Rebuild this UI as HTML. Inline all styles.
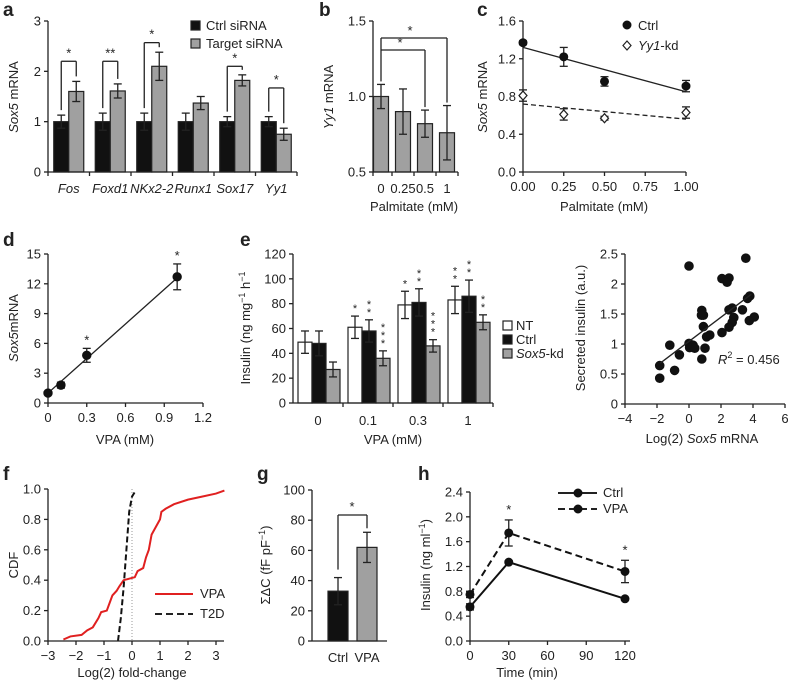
<!DOCTYPE html>
<html><head><meta charset="utf-8"><style>
html,body{margin:0;padding:0;background:#fff;}
svg{display:block;font-family:"Liberation Sans",sans-serif;}
text{fill:#222;}
</style></head><body>
<svg id="fig" width="788" height="682" viewBox="0 0 788 682" xmlns="http://www.w3.org/2000/svg"></svg>
<script>
// ---- panel a data
const aCats=['Fos','Foxd1','NKx2-2','Runx1','Sox17','Yy1'];
const aCtrl=[1,1,1,1,1,1];
const aCtrlErr=[0.13,0.17,0.17,0.17,0.1,0.1];
const aTarget=[1.6,1.61,2.1,1.37,1.82,0.75];
const aTargetErr=[0.2,0.14,0.28,0.13,0.11,0.12];
const aStars=['*','**','*','','*','*'];
const aBracketTop=[2.2,2.2,2.57,0,2.1,1.67];
const aTicks=[0,1,2,3];
// ---- panel b
const bCats=['0','0.25','0.5','1'];
const bVals=[1.0,0.9,0.82,0.76];
const bErr=[0.08,0.15,0.09,0.18];
const bTicks=[0.5,1.0,1.5];
// ---- panel c
const cX=[0,0.25,0.5,1];
const cCtrl=[1.37,1.22,0.96,0.91];
const cCtrlErr=[0.02,0.1,0.05,0.06];
const cKd=[0.81,0.61,0.57,0.63];
const cKdErr=[0.06,0.06,0.02,0.06];
const cCtrlFit=[1.32,0.85];
const cKdFit=[0.72,0.56];
const cYTicks=[0,0.4,0.8,1.2,1.6];
const cXTicks=[0,0.25,0.5,0.75,1];
// ---- panel d
const dX=[0,0.1,0.3,1];
const dY=[1,1.8,4.8,12.7];
const dErr=[0.1,0.3,0.7,1.3];
const dStars=['','','*','*'];
const dFit=[1,12.6];
const dYTicks=[0,3,6,9,12,15];
const dXTicks=[0,0.3,0.6,0.9,1.2];
// ---- panel e
const eCats=['0','0.1','0.3','1'];
const eNT=[49,61,79,83];
const eNTErr=[9,9,11,11];
const eCtrl=[48,58,81,86];
const eCtrlErr=[10,9,11,13];
const eKd=[27,36,46,65];
const eKdErr=[6,6,5,6];
const eNTStars=[0,1,1,2];
const eCtrlStars=[0,2,2,2];
const eKdStars=[0,3,3,2];
const eTicks=[0,20,40,60,80,100,120];
// ---- scatter
const sX=[0,3.55,2.06,2.5,2.38,3.8,3.66,3.34,2.7,2.5,0.8,0.9,0.78,4.08,3.77,2.8,2.7,2.5,0.9,2.06,1.3,1.1,-1.2,0,0.25,0.04,0.36,-0.6,0.8,-1.83,-0.9,-1.83,1.0];
const sY=[2.3,2.43,2.09,2.1,2.03,1.8,1.76,1.57,1.6,1.57,1.56,1.48,1.48,1.45,1.39,1.44,1.36,1.28,1.29,1.19,1.15,1.12,0.98,1.01,0.98,0.94,0.93,0.82,0.75,0.64,0.56,0.43,0.93];
const sFitX=[-1.8,3.9];
const sFitY=[0.68,1.83];
const sYTicks=[0,0.5,1,1.5,2,2.5];
const sYLabels=['0','0.5','1','1.5','2','2.5'];
const sXTicks=[-4,-2,0,2,4,6];
// ---- panel f
const fVpaX=[-2.45,-2.2,-1.8,-1.6,-1.4,-1.2,-1.1,-0.9,-0.8,-0.7,-0.55,-0.45,-0.3,-0.1,0.1,0.2,0.4,0.5,0.6,0.7,0.85,1.0,1.05,1.2,1.5,2.0,2.5,3.0,3.3];
const fVpaY=[0.01,0.03,0.04,0.07,0.09,0.15,0.19,0.2,0.25,0.3,0.33,0.36,0.4,0.41,0.42,0.46,0.48,0.55,0.6,0.7,0.75,0.8,0.85,0.87,0.9,0.93,0.95,0.97,0.99];
const fT2dX=[-0.5,-0.4,-0.3,-0.2,-0.1,0,0.1];
const fT2dY=[0,0.15,0.35,0.6,0.85,0.95,0.98];
const fYTicks=[0,0.2,0.4,0.6,0.8,1.0];
const fXTicks=[-3,-2,-1,0,1,2,3];
// ---- panel g
const gCats=['Ctrl','VPA'];
const gVals=[33,62];
const gErr=[9,10];
const gTicks=[0,20,40,60,80,100];
// ---- panel h
const hX=[0,30,120];
const hCtrl=[0.55,1.27,0.68];
const hCtrlErr=[0.05,0.02,0.02];
const hVpa=[0.75,1.74,1.12];
const hVpaErr=[0.05,0.21,0.18];
const hStars=['','*','*'];
const hYTicks=[0,0.4,0.8,1.2,1.6,2.0,2.4];
const hXTicks=[0,30,60,90,120];

const NS='http://www.w3.org/2000/svg';
const svg=document.getElementById('fig');
function mk(tag,attrs,txt){const e=document.createElementNS(NS,tag);for(const k in attrs)e.setAttribute(k,attrs[k]);if(txt!==undefined)e.textContent=txt;svg.appendChild(e);return e;}
function lin(d0,d1,r0,r1){return v=>r0+(v-d0)*(r1-r0)/(d1-d0);}
function line(x1,y1,x2,y2,name,extra){const e=mk('line',Object.assign({x1,y1,x2,y2,stroke:'#222','stroke-width':1.3},extra||{}));


return e;}
function txt(x,y,s,name,extra){const e=mk('text',Object.assign({x,y,'font-size':13},extra||{}),s);


return e;}
function yAxis(x,ys,ticks,labels,name){line(x,ys(ticks[0]),x,ys(ticks[ticks.length-1]),name+'-y-axis');
ticks.forEach((t,i)=>{line(x-4,ys(t),x,ys(t),name+'-y-tick');txt(x-7,ys(t)+4.5,labels?labels[i]:String(t),name+'-y-tick-label',{'text-anchor':'end'});});}
function xAxis(y,xs,ticks,labels,name){line(xs(ticks[0]),y,xs(ticks[ticks.length-1]),y,name+'-x-axis');
ticks.forEach((t,i)=>{line(xs(t),y,xs(t),y+4,name+'-x-tick');txt(xs(t),y+19,labels?labels[i]:String(t),name+'-x-tick-label',{'text-anchor':'middle'});});}
function ytitle(x,y,parts,name){const e=mk('text',{x:0,y:0,'font-size':13,'text-anchor':'middle',transform:`translate(${x},${y}) rotate(-90)`});


parts.forEach(p=>{const s=document.createElementNS(NS,'tspan');s.textContent=p[0];if(p[1]==='i')s.setAttribute('font-style','italic');if(p[1]==='sup'){s.setAttribute('font-size','9');s.setAttribute('dy','-5');}if(p[1]==='down'){s.setAttribute('dy','5');}e.appendChild(s);});return e;}
function rect(x,y,w,h,fill,name){const e=mk('rect',{x,y,width:w,height:h,fill,stroke:'#222','stroke-width':1.2});


return e;}
function err(x,ylo,yhi,name){line(x,ylo,x,yhi,name);line(x-4,ylo,x+4,ylo,name+'-cap');line(x-4,yhi,x+4,yhi,name+'-cap');}
function dot(x,y,r,name,fill){const e=mk('circle',{cx:x,cy:y,r,fill:fill||'#111',stroke:'#111','stroke-width':1});


return e;}
function letter(x,y,s){txt(x,y,s,'panel-label-'+s,{'font-size':19,'font-weight':'bold','fill':'#111'});}
const GR='#a0a0a0';

// ===== a
letter(3,16,'a');
{const ys=lin(0,3,172,21);const x0=48,gw=41.5;
aCats.forEach((c,i)=>{const cx=x0+gw*(i+0.5);
 rect(cx-15,ys(aCtrl[i]),15,ys(0)-ys(aCtrl[i]),'#111','a-bar-ctrl-'+c);
 rect(cx,ys(aTarget[i]),15,ys(0)-ys(aTarget[i]),GR,'a-bar-target-'+c);
 err(cx-7.5,ys(aCtrl[i]-aCtrlErr[i]),ys(aCtrl[i]+aCtrlErr[i]),'a-err-ctrl');
 err(cx+7.5,ys(aTarget[i]-aTargetErr[i]),ys(aTarget[i]+aTargetErr[i]),'a-err-target');
 if(aStars[i]){const t1=ys(aCtrl[i]+aCtrlErr[i])-5,t2=ys(aTarget[i]+aTargetErr[i])-5;const top=ys(aBracketTop[i]);
  line(cx-7.5,t1,cx-7.5,top,'a-bracket');line(cx-7.5,top,cx+7.5,top,'a-bracket');line(cx+7.5,top,cx+7.5,t2,'a-bracket');
  txt(cx,top-4,aStars[i],'a-significance',{'text-anchor':'middle','font-size':13});}
 txt(cx,193,c,'a-category-label',{'text-anchor':'middle','font-style':'italic'});
 line(x0+gw*i,172,x0+gw*i,176,'a-x-tick');});
line(x0+gw*6,172,x0+gw*6,176,'a-x-tick');
line(x0,172,x0+gw*6,172,'a-x-axis');
yAxis(x0,ys,aTicks,null,'a');
ytitle(18,97,[['Sox5','i'],[' mRNA']],'a-y-axis-title');
rect(191,21,9,9,'#111','a-legend-ctrl-swatch');txt(206,30,'Ctrl siRNA','a-legend-ctrl');
rect(191,39,9,9,GR,'a-legend-target-swatch');txt(206,48,'Target siRNA','a-legend-target');}

// ===== b
letter(319,16,'b');
{const ys=lin(0.5,1.5,172,21);const x0=373;const cxs=i=>381+22*i;
bCats.forEach((c,i)=>{const cx=cxs(i);rect(cx-7.5,ys(bVals[i]),15,ys(0.5)-ys(bVals[i]),GR,'b-bar-'+c);
 err(cx,ys(bVals[i]-bErr[i]),ys(bVals[i]+bErr[i]),'b-err');
 txt(cx,193,c,'b-x-tick-label',{'text-anchor':'middle'});});
[0,1,2,3,4].forEach(i=>line(x0+(i===0?0:cxs(i-1)+11-x0),172,x0+(i===0?0:cxs(i-1)+11-x0),176,'b-x-tick'));
line(x0,172,458,172,'b-x-axis');
ytitle(333,97,[['Yy1','i'],[' mRNA']],'b-y-axis-title');
txt(414,211,'Palmitate (mM)','b-x-axis-title',{'text-anchor':'middle'});
yAxis(x0,ys,bTicks,['0.5','1.0','1.5'],'b');
const t0=ys(bVals[0]+bErr[0])-3;
line(cxs(0),t0,cxs(0),38,'b-bracket');line(cxs(0),38,cxs(3),38,'b-bracket');line(cxs(3),38,cxs(3),ys(bVals[3]+bErr[3])-3,'b-bracket');
line(cxs(0),50,cxs(2),50,'b-bracket');line(cxs(2),50,cxs(2),ys(bVals[2]+bErr[2])-3,'b-bracket');
txt(410,35,'*','b-significance',{'text-anchor':'middle'});txt(400,47,'*','b-significance',{'text-anchor':'middle'});}

// ===== c
letter(477,16,'c');
{const ys=lin(0,1.6,172,21),xs=lin(0,1,523,686);
yAxis(523,ys,cYTicks,['0.0','0.4','0.8','1.2','1.6'],'c');xAxis(172,xs,cXTicks,['0.00','0.25','0.50','0.75','1.00'],'c');
line(xs(0),ys(cCtrlFit[0]),xs(1),ys(cCtrlFit[1]),'c-ctrl-fit-line');
line(xs(0),ys(cKdFit[0]),xs(1),ys(cKdFit[1]),'c-kd-fit-line',{'stroke-dasharray':'5,3'});
cX.forEach((x,i)=>{err(xs(x),ys(cCtrl[i]-cCtrlErr[i]),ys(cCtrl[i]+cCtrlErr[i]),'c-ctrl-err');dot(xs(x),ys(cCtrl[i]),4,'c-ctrl-point');
 err(xs(x),ys(cKd[i]-cKdErr[i]),ys(cKd[i]+cKdErr[i]),'c-kd-err');
 const d=mk('path',{d:`M${xs(x)},${ys(cKd[i])-4.5}l4,4.5l-4,4.5l-4,-4.5z`,fill:'#fff',stroke:'#222','stroke-width':1.2});
 
 });
ytitle(487,97,[['Sox5','i'],[' mRNA']],'c-y-axis-title');
txt(604,211,'Palmitate (mM)','c-x-axis-title',{'text-anchor':'middle'});
dot(627,25,4,'c-legend-ctrl-marker');txt(638,30,'Ctrl','c-legend-ctrl');
const d=mk('path',{d:'M627,41l4,4.5l-4,4.5l-4,-4.5z',fill:'#fff',stroke:'#222','stroke-width':1.2});


const t=txt(638,50,'','c-legend-kd');t.innerHTML='<tspan font-style="italic">Yy1</tspan>-kd';}

// ===== d
letter(3,246,'d');
{const ys=lin(0,15,403,254),xs=lin(0,1.2,48,203);
yAxis(48,ys,dYTicks,null,'d');xAxis(403,xs,dXTicks,['0','0.3','0.6','0.9','1.2'],'d');
line(xs(0),ys(dFit[0]),xs(1),ys(dFit[1]),'d-fit-line');
dX.forEach((x,i)=>{err(xs(x),ys(dY[i]-dErr[i]),ys(dY[i]+dErr[i]),'d-err');dot(xs(x),ys(dY[i]),4.2,'d-point');
 if(dStars[i])txt(xs(x),ys(dY[i]+dErr[i])-4,'*','d-significance',{'text-anchor':'middle'});});
ytitle(18,328,[['Sox5','i'],['mRNA']],'d-y-axis-title');
txt(125,444,'VPA (mM)','d-x-axis-title',{'text-anchor':'middle'});}

// ===== e
letter(240,246,'e');
{const ys=lin(0,120,403,254);const x0=293,gw=50;
const series=[[eNT,eNTErr,'#fff',eNTStars,'nt'],[eCtrl,eCtrlErr,'#111',eCtrlStars,'ctrl'],[eKd,eKdErr,GR,eKdStars,'kd']];
eCats.forEach((c,i)=>{const gx=x0+5+gw*i;
 series.forEach((s,j)=>{const bx=gx+14*j;const v=s[0][i],e=s[1][i];
  rect(bx,ys(v),14,ys(0)-ys(v),s[2],'e-bar-'+s[4]+'-'+c);
  err(bx+7,ys(v-e),ys(v+e),'e-err');
  for(let k=0;k<s[3][i];k++)txt(bx+7,ys(v+e)-4-k*8,'*','e-significance',{'text-anchor':'middle','font-size':11});});
 txt(x0+gw*(i+0.5),425,c,'e-x-tick-label',{'text-anchor':'middle'});
 line(x0+gw*(i+1),403,x0+gw*(i+1),407,'e-x-tick');});
line(x0,403,x0+gw*4,403,'e-x-axis');
yAxis(x0,ys,eTicks,null,'e');
ytitle(250,328,[['Insulin (ng mg'],['−1','sup'],[' h','down'],['−1','sup']],'e-y-axis-title');
txt(393,444,'VPA (mM)','e-x-axis-title',{'text-anchor':'middle'});
rect(503,321,9,9,'#fff','e-legend-nt-swatch');txt(516,330,'NT','e-legend-nt');
rect(503,335,9,9,'#111','e-legend-ctrl-swatch');txt(516,344,'Ctrl','e-legend-ctrl');
rect(503,349,9,9,GR,'e-legend-kd-swatch');const t=txt(516,358,'','e-legend-kd');t.innerHTML='<tspan font-style="italic">Sox5</tspan>-kd';}

// ===== scatter
{const ys=lin(0,2.5,404,254),xs=lin(-4,6,625,785);
yAxis(625,ys,sYTicks,sYLabels,'s');xAxis(404,xs,sXTicks,['−4','−2','0','2','4','6'],'s');
sX.forEach((x,i)=>dot(xs(x),ys(sY[i]),4.3,'s-point'));
line(xs(sFitX[0]),ys(sFitY[0]),xs(sFitX[1]),ys(sFitY[1]),'s-fit-line');
ytitle(585,328,[['Secreted insulin (a.u.)']],'s-y-axis-title');
const t=txt(702,443,'','s-x-axis-title',{'text-anchor':'middle'});t.innerHTML='Log(2) <tspan font-style="italic">Sox5</tspan> mRNA';
const r=txt(718,364,'','s-r2-label');r.innerHTML='<tspan font-style="italic">R</tspan><tspan font-size="9" dy="-6">2</tspan><tspan dy="6"> = 0.456</tspan>';}

// ===== f
letter(3,480,'f');
{const ys=lin(0,1,641,489),xs=lin(-3,3,48,216);
line(xs(0),489,xs(0),641,'f-zero-line',{stroke:'#999','stroke-dasharray':'1,2','stroke-width':1});
let p='';fVpaX.forEach((x,i)=>{p+=(i?'L':'M')+xs(x)+','+ys(fVpaY[i]);});
const a=mk('path',{d:p,fill:'none',stroke:'#e02020','stroke-width':2});


let q='';fT2dX.forEach((x,i)=>{q+=(i?'L':'M')+xs(x)+','+ys(fT2dY[i]);});
const b=mk('path',{d:q,fill:'none',stroke:'#111','stroke-width':2,'stroke-dasharray':'6,3'});


yAxis(48,ys,fYTicks,['0.0','0.2','0.4','0.6','0.8','1.0'],'f');xAxis(641,xs,fXTicks,['−3','−2','−1','0','1','2','3'],'f');
line(216,641,224,641,'f-x-axis');
ytitle(18,565,[['CDF']],'f-y-axis-title');
txt(132,677,'Log(2) fold-change','f-x-axis-title',{'text-anchor':'middle'});
line(155,594,193,594,'f-legend-vpa-line',{stroke:'#e02020','stroke-width':2});txt(200,598,'VPA','f-legend-vpa');
line(155,614,193,614,'f-legend-t2d-line',{'stroke-width':2,'stroke-dasharray':'7,4'});txt(200,618,'T2D','f-legend-t2d');}

// ===== g
letter(257,480,'g');
{const ys=lin(0,100,641,490);const cxs=[338,367];
gCats.forEach((c,i)=>{rect(cxs[i]-10,ys(gVals[i]),20,ys(0)-ys(gVals[i]),i?GR:'#111','g-bar-'+c);
 err(cxs[i],ys(gVals[i]-gErr[i]),ys(gVals[i]+gErr[i]),'g-err');
 txt(cxs[i],662,c,'g-x-tick-label',{'text-anchor':'middle'});});
line(312,641,387,641,'g-x-axis');
yAxis(312,ys,gTicks,null,'g');
line(cxs[0],ys(gVals[0]+gErr[0])-8,cxs[0],515,'g-bracket');line(cxs[0],515,cxs[1],515,'g-bracket');line(cxs[1],515,cxs[1],ys(gVals[1]+gErr[1])-4,'g-bracket');
txt(352,511,'*','g-significance',{'text-anchor':'middle'});
ytitle(270,565,[['ΣΔC (fF pF'],['−1','sup'],[')','down']],'g-y-axis-title');}

// ===== h
letter(418,480,'h');
{const ys=lin(0,2.4,641,492),xs=lin(0,120,470,625);
yAxis(470,ys,hYTicks,['0.0','0.4','0.8','1.2','1.6','2.0','2.4'],'h');xAxis(641,xs,hXTicks,null,'h');
line(625,641,630,641,'h-x-axis');
let p='',q='';hX.forEach((x,i)=>{p+=(i?'L':'M')+xs(x)+','+ys(hCtrl[i]);q+=(i?'L':'M')+xs(x)+','+ys(hVpa[i]);});
const a=mk('path',{d:p,fill:'none',stroke:'#111','stroke-width':2});


const b=mk('path',{d:q,fill:'none',stroke:'#111','stroke-width':2,'stroke-dasharray':'7,4'});


hX.forEach((x,i)=>{err(xs(x),ys(hCtrl[i]-hCtrlErr[i]),ys(hCtrl[i]+hCtrlErr[i]),'h-ctrl-err');dot(xs(x),ys(hCtrl[i]),4,'h-ctrl-point');
 err(xs(x),ys(hVpa[i]-hVpaErr[i]),ys(hVpa[i]+hVpaErr[i]),'h-vpa-err');dot(xs(x),ys(hVpa[i]),4,'h-vpa-point');
 if(hStars[i])txt(xs(x),ys(hVpa[i]+hVpaErr[i])-6,'*','h-significance',{'text-anchor':'middle'});});
ytitle(430,565,[['Insulin (ng ml'],['−1','sup'],[')','down']],'h-y-axis-title');
txt(527,677,'Time (min)','h-x-axis-title',{'text-anchor':'middle'});
line(558,493,597,493,'h-legend-ctrl-line',{'stroke-width':2});dot(578,493,4,'h-legend-ctrl-marker');txt(603,497,'Ctrl','h-legend-ctrl');
line(558,509,597,509,'h-legend-vpa-line',{'stroke-width':2,'stroke-dasharray':'7,4'});dot(578,509,4,'h-legend-vpa-marker');txt(603,513,'VPA','h-legend-vpa');}
</script>
</body></html>
